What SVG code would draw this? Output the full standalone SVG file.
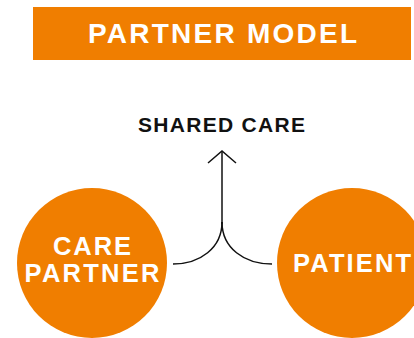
<svg xmlns="http://www.w3.org/2000/svg" width="414" height="338" viewBox="0 0 414 338">
<style>
.orange{fill:#F07E00}
.wt{fill:#fff;font-family:"Liberation Sans",Arial,sans-serif;font-weight:bold;text-anchor:middle}
.bt{fill:#111;font-family:"Liberation Sans",Arial,sans-serif;font-weight:bold;text-anchor:middle}
.conn{fill:none;stroke:#111;stroke-width:1.5}
</style>
<rect width="414" height="338" fill="#fff"/>
<g id="title">
<rect class="orange" x="33" y="7" width="378" height="53"/>
<text class="wt" x="222.5" y="43" font-size="28" textLength="269" lengthAdjust="spacing">PARTNER MODEL</text>
</g>
<g id="shared-care">
<text class="bt" x="221.5" y="132" font-size="21" textLength="167" lengthAdjust="spacing">SHARED CARE</text>
</g>
<g id="care-partner">
<circle class="orange" cx="92" cy="263" r="75"/>
<text class="wt" x="92" y="255" font-size="25.5" textLength="78" lengthAdjust="spacing">CARE</text>
<text class="wt" x="92" y="282" font-size="25.5" textLength="135" lengthAdjust="spacing">PARTNER</text>
</g>
<g id="patient">
<circle class="orange" cx="352" cy="263" r="75"/>
<text class="wt" x="352" y="272" font-size="25.5" textLength="118" lengthAdjust="spacing">PATIENT</text>
</g>
<g id="connectors">
<path class="conn" d="M222,224 V151"/>
<path class="conn" d="M208,163 L222,151 L236,163"/>
<path class="conn" d="M222,222 C222,248 200,264 173,264"/>
<path class="conn" d="M222,222 C222,248 244,264 272,264"/>
</g>
</svg>
